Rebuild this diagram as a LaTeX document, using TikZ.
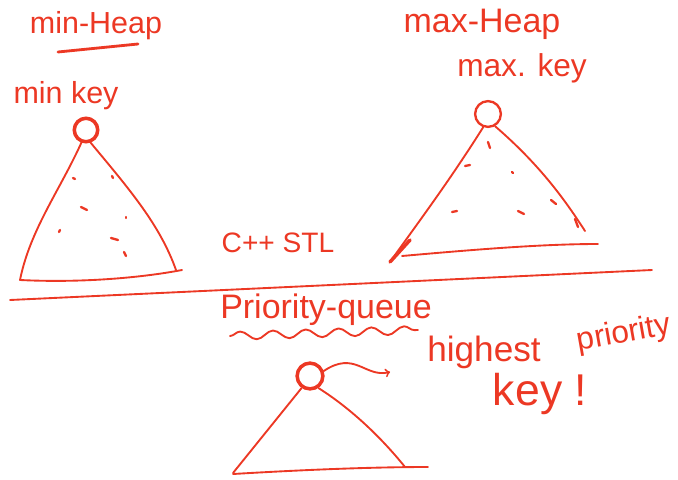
\documentclass[tikz,border=0pt]{standalone}
\usepackage{fontspec}
\setmainfont{Liberation Sans}
\usepackage{tikz}
\usetikzlibrary{arrows,positioning,calc,decorations.pathmorphing}

\definecolor{inkred}{RGB}{236,56,36}

\tikzset{
  ink/.style={draw=inkred,line width=1.6pt,line cap=round,line join=round},
  keynode/.style={circle,draw=inkred,line width=3pt,minimum size=20pt,inner sep=0pt},
  hand/.style={text=inkred,inner sep=1pt,font=\fontsize{#1}{#1}\selectfont},
  hand/.default=24,
  crumb/.style={draw=inkred,line width=2pt,line cap=round}
}

\begin{document}
\begin{tikzpicture}[x=0.03cm,y=-0.03cm]
  \useasboundingbox (0,0) rectangle (678,479);

  % titles
  \node[hand=26] (minhead) at (96,26) {min-Heap};
  \node[hand=29] (maxhead) at (482,24) {max-Heap};
  \node[hand=26] (minlbl) at (66,96) {min key};
  \node[hand=27] (maxlbl) at (522,68) {max. key};
  \node[hand=24] (stl) at (278,243) {C++ STL};
  \node[hand=29] (pq) at (326,310) {Priority-queue};
  \node[hand=30] (hi) at (484,352) {highest};
  \node[hand=27,rotate=10] (prio) at (624,334) {priority};
  \node[hand=38] (keytxt) at (540,394) {key !};

  % heap roots
  \node[keynode] (minroot) at (86,130) {};
  \node[keynode,line width=2pt,minimum size=22pt] (maxroot) at (488,114) {};
  \node[keynode,minimum size=22pt] (pqroot) at (310,376) {};

  % min-heap
  \draw[ink,line width=2.4pt] (58,52) -- (138,44);
  \draw[ink] (minroot.250) .. controls (60,190) and (30,230) .. (20,280);
  \draw[ink] (minroot.290) .. controls (130,190) and (160,225) .. (176,270);
  \draw[ink] (20,280) .. controls (80,283) and (140,278) .. (182,270);
  \draw[crumb] (73,178) -- (75,179);
  \draw[crumb] (112,176) -- (113,178);
  \draw[crumb] (81,207) -- (87,210);
  \draw[crumb] (126,217) -- (126,218);
  \draw[crumb] (60,230) -- (59,232);
  \draw[crumb] (111,238) -- (118,240);
  \draw[crumb] (124,252) -- (126,256);

  % max-heap
  \draw[ink] (maxroot.250) .. controls (450,180) and (420,220) .. (390,262);
  \draw[ink,line width=3pt] (390,262) -- (410,240);
  \draw[ink] (maxroot.300) .. controls (540,165) and (565,200) .. (585,231);
  \draw[ink] (402,256) .. controls (470,250) and (540,244) .. (598,244);
  \draw[crumb] (488,142) -- (490,148);
  \draw[crumb] (465,166) -- (470,165);
  \draw[crumb] (512,172) -- (513,173);
  \draw[crumb] (452,212) -- (457,211);
  \draw[crumb] (518,211) -- (524,214);
  \draw[crumb] (551,200) -- (556,204);
  \draw[crumb] (575,219) -- (578,227);

  % dividing line
  \draw[ink] (10,300) -- (652,270);

  % priority queue
  \draw[ink,decorate,decoration={snake,amplitude=3.5pt,segment length=28pt}]
    (230,336) -- (418,330);
  \draw[ink] (pqroot.235) -- (233,473);
  \draw[ink] (pqroot.305) .. controls (350,408) and (380,436) .. (405,467);
  \draw[ink] (233,474) .. controls (300,470) and (370,467) .. (428,467);
  \draw[ink,-to] (pqroot.20) .. controls (355,350) and (365,378) .. (390,372);
\end{tikzpicture}
\end{document}
